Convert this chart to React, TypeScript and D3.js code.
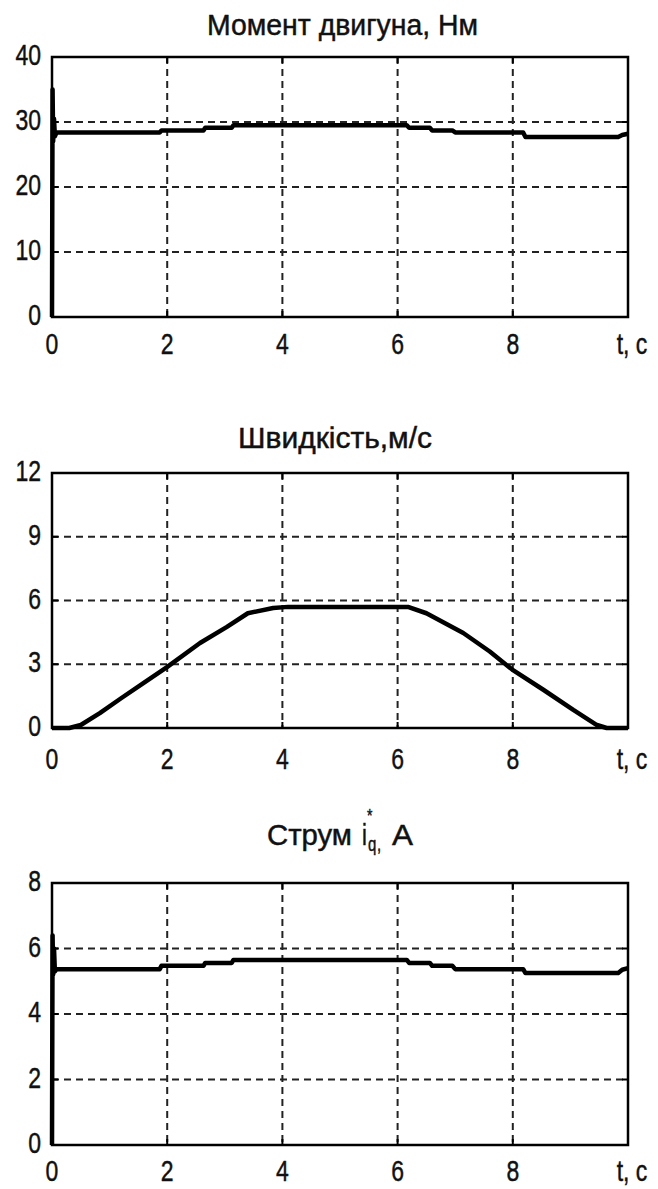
import React, { useEffect, useRef } from "react";
import * as d3 from "d3";

// shared time axis
const xTicks = [0, 2, 4, 6, 8, 10];
const xTickLabels = ["0", "2", "4", "6", "8", "t, c"];

// Момент двигуна
const torqueTime = [0, 0.01, 0.02, 0.035, 0.05, 0.08, 1.87, 1.9, 2.63, 2.66, 3.12, 3.15, 6.16, 6.2, 6.56, 6.6, 6.95, 7.0, 8.18, 8.22, 9.83, 9.9, 10];
const torqueValue = [0, 35, 27, 30.5, 27.8, 28.4, 28.4, 28.7, 28.7, 29.1, 29.1, 29.5, 29.5, 29.1, 29.1, 28.7, 28.7, 28.4, 28.4, 27.7, 27.7, 28.0, 28.2];
const torqueTicks = [0, 10, 20, 30, 40];

// Швидкість
const speedTime = [0, 0.3, 0.5, 0.83, 1.2, 1.58, 1.99, 2.57, 3.03, 3.4, 3.84, 4.1, 6.18, 6.5, 7.14, 7.6, 7.99, 8.53, 9.05, 9.46, 9.63, 10];
const speedValue = [0, 0, 0.14, 0.7, 1.4, 2.1, 2.85, 4.0, 4.75, 5.4, 5.65, 5.7, 5.7, 5.4, 4.47, 3.6, 2.75, 1.8, 0.85, 0.14, 0, 0];
const speedTicks = [0, 3, 6, 9, 12];

// Струм i_q*
const currentTime = [0, 0.01, 0.02, 0.035, 0.05, 0.08, 1.87, 1.9, 2.63, 2.66, 3.12, 3.15, 6.16, 6.2, 6.56, 6.6, 6.95, 7.0, 8.18, 8.22, 9.83, 9.9, 10];
const currentValue = [0, 6.4, 5.2, 6.0, 5.3, 5.37, 5.37, 5.47, 5.47, 5.56, 5.56, 5.65, 5.65, 5.56, 5.56, 5.47, 5.47, 5.37, 5.37, 5.25, 5.25, 5.35, 5.4];
const currentTicks = [0, 2, 4, 6, 8];

const W = 658;
const H = 1189;
const FONT = "'Liberation Sans', Arial, sans-serif";
const STRETCH = 1.3; // the scanned figure is stretched vertically

const App = () => {
    const svgRef = useRef<SVGSVGElement>(null);

    useEffect(() => {
        const svg = d3.select(svgRef.current);
        svg.selectAll("*").remove();

        const left = 52;
        const right = 628;
        const x = d3.scaleLinear().domain([0, 10]).range([left, right]);

        const panels = [
            { top: 57, bottom: 317, ticks: torqueTicks, t: torqueTime, v: torqueValue, titleY: 35, labelDy: 37 },
            { top: 473, bottom: 728, ticks: speedTicks, t: speedTime, v: speedValue, titleY: 448, labelDy: 41 },
            { top: 883, bottom: 1145, ticks: currentTicks, t: currentTime, v: currentValue, titleY: 845, labelDy: 36 },
        ];

        const label = (g, px, py, txt, anchor, size) =>
            g.append("text")
                .attr("transform", `translate(${px},${py}) scale(1,${STRETCH})`)
                .attr("text-anchor", anchor)
                .attr("font-family", FONT)
                .attr("font-size", size)
                .attr("fill", "#111")
                .attr("stroke", "#111")
                .attr("stroke-width", 0.35)
                .text(txt);

        panels.forEach((p, i) => {
            const yMax = p.ticks[p.ticks.length - 1];
            const y = d3.scaleLinear().domain([0, yMax]).range([p.bottom, p.top]);
            const g = svg.append("g");

            g.append("rect")
                .attr("x", left).attr("y", p.top)
                .attr("width", right - left).attr("height", p.bottom - p.top)
                .attr("fill", "#fff");

            // grid
            g.selectAll(".gx")
                .data(xTicks.slice(1, -1))
                .enter().append("line")
                .attr("x1", d => x(d)).attr("x2", d => x(d))
                .attr("y1", p.top).attr("y2", p.bottom)
                .attr("stroke", "#222").attr("stroke-width", 2)
                .attr("stroke-dasharray", "7,5");
            g.selectAll(".gy")
                .data(p.ticks.slice(1, -1))
                .enter().append("line")
                .attr("x1", left).attr("x2", right)
                .attr("y1", d => y(d)).attr("y2", d => y(d))
                .attr("stroke", "#222").attr("stroke-width", 2)
                .attr("stroke-dasharray", "7,5");

            // inward ticks
            xTicks.forEach(d => {
                g.append("line").attr("x1", x(d)).attr("x2", x(d)).attr("y1", p.bottom).attr("y2", p.bottom - 6).attr("stroke", "#000").attr("stroke-width", 2);
                g.append("line").attr("x1", x(d)).attr("x2", x(d)).attr("y1", p.top).attr("y2", p.top + 6).attr("stroke", "#000").attr("stroke-width", 2);
            });
            p.ticks.forEach(d => {
                g.append("line").attr("x1", left).attr("x2", left + 6).attr("y1", y(d)).attr("y2", y(d)).attr("stroke", "#000").attr("stroke-width", 2);
                g.append("line").attr("x1", right).attr("x2", right - 6).attr("y1", y(d)).attr("y2", y(d)).attr("stroke", "#000").attr("stroke-width", 2);
            });

            // data
            const pts = p.t.map((t, k) => [t, p.v[k]] as [number, number]);
            const line = d3.line<[number, number]>()
                .x(d => x(d[0]))
                .y(d => y(d[1]));
            g.append("path")
                .attr("d", line(pts))
                .attr("fill", "none")
                .attr("stroke", "#000")
                .attr("stroke-width", 4.5)
                .attr("stroke-linejoin", "round");

            // frame
            g.append("rect")
                .attr("x", left).attr("y", p.top)
                .attr("width", right - left).attr("height", p.bottom - p.top)
                .attr("fill", "none")
                .attr("stroke", "#000").attr("stroke-width", 2.5);

            // tick labels
            p.ticks.forEach(d => label(g, 41, y(d) + 8, String(d), "end", 23));
            xTicks.forEach((d, k) => label(g, x(d) + (k === xTicks.length - 1 ? 4 : 0), p.bottom + p.labelDy, xTickLabels[k], "middle", 23));

            // titles
            if (i === 0) {
                label(g, 207, p.titleY, "Момент двигуна, Нм", "start", 22)
                    .attr("textLength", 271).attr("lengthAdjust", "spacingAndGlyphs");
            } else if (i === 1) {
                label(g, 238, p.titleY, "Швидкість,м/с", "start", 22)
                    .attr("textLength", 194).attr("lengthAdjust", "spacingAndGlyphs");
            } else {
                label(g, 267, p.titleY, "Струм", "start", 22)
                    .attr("textLength", 85).attr("lengthAdjust", "spacingAndGlyphs");
                label(g, 362, p.titleY, "i", "start", 22);
                label(g, 367, p.titleY - 23, "*", "start", 14);
                label(g, 368, p.titleY + 6, "q", "start", 15);
                label(g, 377, p.titleY + 6, ",", "start", 15);
                label(g, 392, p.titleY, "A", "start", 22)
                    .attr("textLength", 21).attr("lengthAdjust", "spacingAndGlyphs");
            }
        });

        return () => {
            svg.selectAll("*").remove();
        };
    }, []);

    return (
        <svg
            ref={svgRef}
            width={W}
            height={H}
            style={{ position: "absolute", left: 0, top: 0, background: "#fff" }}
        />
    );
};

export default App;
